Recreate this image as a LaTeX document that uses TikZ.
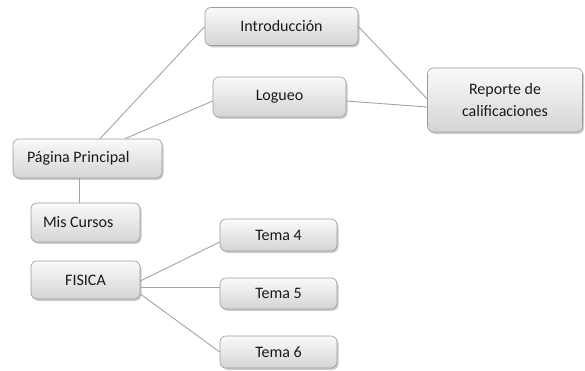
\documentclass[tikz,border=0pt]{standalone}
\usepackage{fontspec}
\setmainfont{Carlito}
\usetikzlibrary{shadows}
\definecolor{boxline}{HTML}{9C9C9C}
\definecolor{boxtop}{HTML}{FAFAFA}
\definecolor{boxbot}{HTML}{D4D4D4}
\definecolor{linkgray}{HTML}{A3A3A3}
\definecolor{txt}{HTML}{1A1A1A}
\begin{document}
\begin{tikzpicture}[x=1pt,y=-1pt]
\tikzstyle{box}=[draw=boxline, line width=0.6pt, rounded corners=6pt,
  top color=boxtop, bottom color=boxbot, text=txt, align=center,
  font=\fontsize{16}{21}\selectfont, inner sep=0pt,
  drop shadow={shadow xshift=1.5pt, shadow yshift=-1.8pt, fill=black!45, opacity=0.45}]
\tikzstyle{link}=[draw=linkgray, line width=0.9pt]
\useasboundingbox (0,0) rectangle (585,370);
% top row
\node[box, minimum width=153pt, minimum height=38pt] (intro) at (281.5,26.5) {Introducción};
\node[box, minimum width=133pt, minimum height=40pt] (logueo) at (279.5,97) {Logueo};
\node[box, minimum width=155pt, minimum height=64pt] (reporte) at (505,100) {Reporte de\\calificaciones};
% left column
\node[box, inner xsep=14pt, minimum height=39pt] (pag) at (87.5,158.5) {\makebox[121pt][l]{Página Principal}};
\node[box, inner xsep=12pt, minimum height=39pt] (mis) at (85.5,222.5) {\makebox[85pt][l]{Mis Cursos}};
\node[box, minimum width=109pt, minimum height=38pt] (fisica) at (85.5,280) {FISICA};
% temas
\node[box, minimum width=117pt, minimum height=32pt] (tema4) at (278.5,235) {Tema 4};
\node[box, minimum width=117pt, minimum height=31pt] (tema5) at (278.5,293.5) {Tema 5};
\node[box, minimum width=117pt, minimum height=32pt] (tema6) at (278.5,352) {Tema 6};
% links
\draw[link] ([xshift=12.5pt]pag.north) -- (intro.west);
\draw[link] ([xshift=37.5pt]pag.north) -- ([yshift=-4pt]logueo.west);
\draw[link] (intro.east) -- ([yshift=1pt]reporte.west);
\draw[link] ([yshift=-4pt]logueo.east) -- ([yshift=-7pt]reporte.west);
\draw[link] ([xshift=-6.5pt]mis.north) -- ([xshift=-6.5pt]mis.north |- pag.south);
\draw[link] ([yshift=-1pt]fisica.east) -- ([yshift=-7pt]tema4.west);
\draw[link] ([yshift=-7pt]fisica.east) -- ([yshift=-7pt]fisica.east -| tema5.west);
\draw[link] ([yshift=-14pt]fisica.east) -- (tema6.west);
\end{tikzpicture}
\end{document}
